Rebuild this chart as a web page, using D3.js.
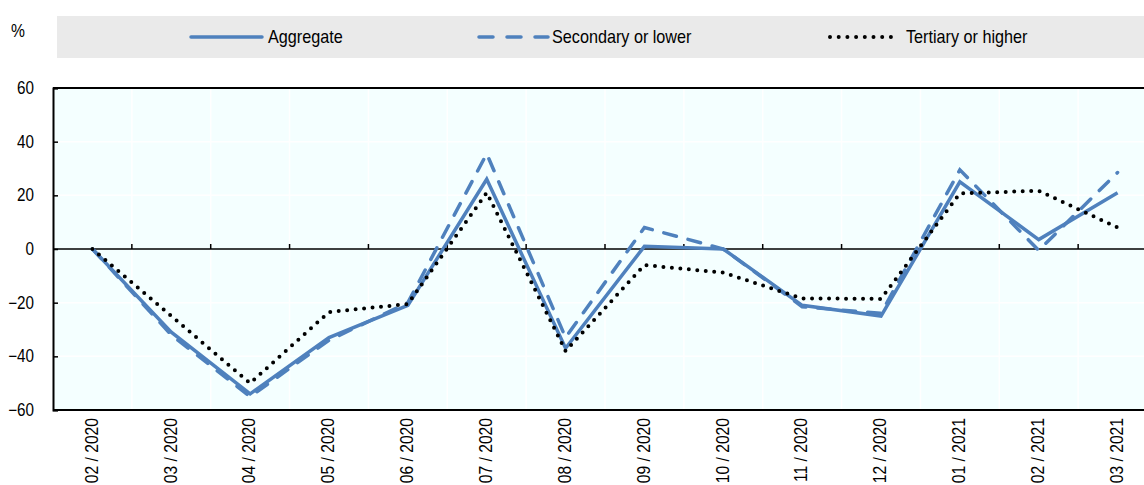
<!DOCTYPE html>
<html>
<head>
<meta charset="utf-8">
<script src="https://cdn.jsdelivr.net/npm/d3@7"></script>
<style>
  body { margin: 0; background: #fff; }
  svg { display: block; font-family: "Liberation Sans", Arial, sans-serif; }
</style>
</head>
<body>
<div id="chart"></div>
<script>
// months (x categories)
const months = ["02 / 2020","03 / 2020","04 / 2020","05 / 2020","06 / 2020","07 / 2020","08 / 2020",
                "09 / 2020","10 / 2020","11 / 2020","12 / 2020","01 / 2021","02 / 2021","03 / 2021"];
// % change
const aggregate = [0, -31, -54, -33, -21, 26, -37, 1, 0, -21, -25, 25, 3.5, 21];
const secondary = [0, -32, -55, -34, -20, 35.5, -33, 8, 0, -21.5, -24, 29.5, -0.5, 28.5];
const tertiary  = [0, -25, -50, -23.5, -20.5, 21, -38, -6, -8.8, -18.4, -18.6, 20.7, 21.7, 8];
const yTicks = [-60, -40, -20, 0, 20, 40, 60];

const seriesNames = ["Aggregate", "Secondary or lower", "Tertiary or higher"];

const W = 1144, H = 485;
const blue = "#4F81BD";
const narrow = 0.87; // the original uses a condensed face, squeeze Liberation Sans a bit

const svg = d3.select("#chart").append("svg")
    .attr("width", W).attr("height", H);

// plot region (the right edge runs past the picture, like the original)
const pL = 53, pR = 1157, pT = 88, pB = 410;

const x = d3.scaleBand().domain(months).range([pL, pR]);
const y = d3.scaleLinear().domain([-60, 60]).range([pB, pT]);

svg.append("rect")
  .attr("x", pL).attr("y", pT)
  .attr("width", pR - pL).attr("height", pB - pT)
  .attr("fill", "#F4FFFF");

// white grid
const g = svg.append("g");
g.selectAll("line.v").data(months.slice(1)).enter().append("line")
  .attr("x1", d => x(d)).attr("x2", d => x(d))
  .attr("y1", pT).attr("y2", pB)
  .attr("stroke", "#fff").attr("stroke-width", 1.5);
g.selectAll("line.h").data(yTicks.filter(d => d !== 0 && d !== 60 && d !== -60)).enter().append("line")
  .attr("x1", pL).attr("x2", pR)
  .attr("y1", d => y(d)).attr("y2", d => y(d))
  .attr("stroke", "#fff").attr("stroke-width", 1.5);

// frame: top and bottom
svg.append("line").attr("x1", pL).attr("x2", pR).attr("y1", pT).attr("y2", pT)
  .attr("stroke", "#000").attr("stroke-width", 2);
svg.append("line").attr("x1", pL).attr("x2", pR).attr("y1", pB).attr("y2", pB)
  .attr("stroke", "#000").attr("stroke-width", 2);

// zero line with small ticks between months
svg.append("line").attr("x1", pL).attr("x2", pR).attr("y1", y(0)).attr("y2", y(0))
  .attr("stroke", "#000").attr("stroke-width", 1.5);
svg.selectAll("line.zt").data(months.slice(1)).enter().append("line")
  .attr("x1", d => x(d)).attr("x2", d => x(d))
  .attr("y1", y(0)).attr("y2", y(0) - 5)
  .attr("stroke", "#000").attr("stroke-width", 1.5);

// y axis
const yAxis = svg.append("g")
  .attr("transform", `translate(${pL},0)`)
  .call(d3.axisLeft(y).tickValues(yTicks).tickSize(-5).tickFormat(d3.format("d")));
yAxis.select(".domain").attr("stroke", "#000").attr("stroke-width", 2);
yAxis.selectAll(".tick line").attr("stroke", "#000").attr("stroke-width", 1.5);
yAxis.selectAll("text").attr("font-size", 17.5).attr("fill", "#000")
  .attr("font-family", "inherit")
  .attr("transform", `scale(${narrow},1)`)
  .attr("x", -19 / narrow);

// x axis labels, rotated
const xAxis = svg.append("g")
  .attr("transform", `translate(0,${pB})`)
  .call(d3.axisBottom(x).tickSize(0).tickPadding(0));
xAxis.select(".domain").remove();
xAxis.selectAll("text")
  .attr("font-size", 18).attr("fill", "#000").attr("font-family", "inherit")
  .attr("text-anchor", "end")
  .attr("transform", `rotate(-90) scale(${narrow},1)`)
  .attr("x", -8 / narrow).attr("y", -1).attr("dy", "0.35em");

// lines
const line = d3.line().x((d, i) => x(months[i]) + x.bandwidth() / 2).y(d => y(d));
const styles = [
  { data: aggregate, color: blue, dash: null, w: 3.5 },
  { data: secondary, color: blue, dash: "13,12", w: 3.5 },
  { data: tertiary, color: "#000", dash: "0,8.5", w: 4 }
];
styles.forEach(s => {
  svg.append("path").datum(s.data)
    .attr("d", line)
    .attr("fill", "none")
    .attr("stroke", s.color)
    .attr("stroke-width", s.w)
    .attr("stroke-linecap", s.dash ? "round" : "butt")
    .attr("stroke-linejoin", "miter")
    .attr("stroke-dasharray", s.dash);
});

// legend
svg.append("rect").attr("x", 57).attr("y", 16).attr("width", W - 57).attr("height", 42)
  .attr("fill", "#EAEAEA");
const legendPos = [
  { x1: 191, x2: 262, tx: 268 },
  { x1: 479, x2: 548, tx: 552 },
  { x1: 830, x2: 892, tx: 906 }
];
styles.forEach((s, i) => {
  const p = legendPos[i];
  svg.append("line")
    .attr("x1", p.x1).attr("x2", p.x2).attr("y1", 37).attr("y2", 37)
    .attr("stroke", s.color).attr("stroke-width", s.w)
    .attr("stroke-linecap", "round")
    .attr("stroke-dasharray", s.dash ? (i === 1 ? "14,14" : "0,8.7") : null);
  svg.append("text")
    .attr("transform", `translate(${p.tx},43) scale(0.9,1)`)
    .attr("font-size", 18).attr("fill", "#000")
    .text(seriesNames[i]);
});

svg.append("text").attr("transform", `translate(11,37) scale(${narrow},1)`)
  .attr("font-size", 18).attr("fill", "#000").text("%");
</script>
</body>
</html>
